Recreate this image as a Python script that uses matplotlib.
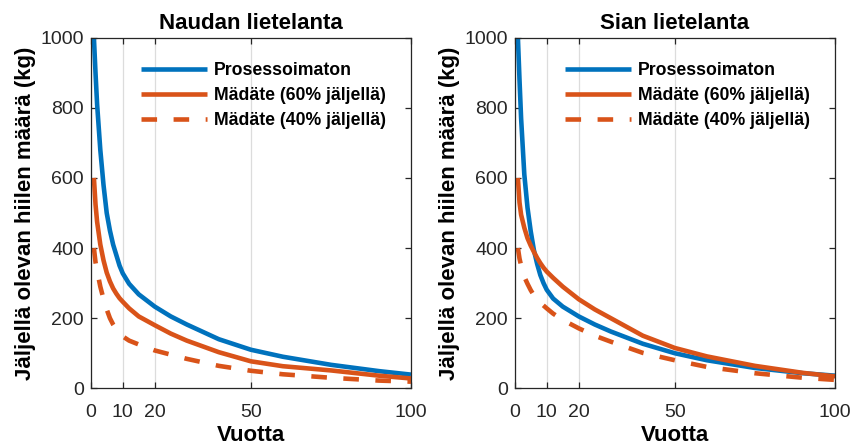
import matplotlib
matplotlib.use("Agg")
import matplotlib.pyplot as plt

plt.rcParams['font.family'] = ['Liberation Sans', 'DejaVu Sans']

# ---- data ----
years = [1, 1.5, 2, 3, 4, 5, 6, 7, 8, 9, 10, 12, 15, 20, 25, 30, 40, 50, 60, 75, 90, 100]

titles = ["Naudan lietelanta", "Sian lietelanta"]
series_labels = ["Prosessoimaton", "Mädäte (60% jäljellä)", "Mädäte (40% jäljellä)"]

naudan_prosessoimaton = [1000, 900, 810, 680, 580, 500, 450, 410, 380, 350, 328, 298, 268, 233, 205, 182, 140, 110, 90, 67, 49, 39]
naudan_madate_60 = [600, 525, 475, 410, 365, 330, 305, 285, 270, 257, 247, 228, 205, 180, 156, 136, 103, 77, 63, 51, 36, 28]
naudan_madate_40 = [400, 360, 335, 290, 255, 225, 200, 182, 168, 157, 148, 136, 125, 108, 96, 84, 64, 50, 40, 30, 22, 19]

sian_prosessoimaton = [1000, 880, 770, 610, 515, 448, 394, 355, 323, 300, 281, 256, 233, 205, 182, 162, 127, 100, 80, 58, 43, 36]
sian_madate_60 = [600, 530, 495, 458, 428, 407, 389, 372, 357, 344, 333, 315, 290, 254, 225, 200, 150, 115, 91, 64, 44, 34]
sian_madate_40 = [400, 370, 350, 318, 298, 280, 265, 254, 244, 236, 228, 213, 195, 171, 150, 133, 101, 80, 61, 43, 30, 24]

x_ticks = [0, 10, 20, 50, 100]
y_ticks = [0, 200, 400, 600, 800, 1000]
x_label = "Vuotta"
y_label = "Jäljellä olevan hiilen määrä (kg)"

panels = [
    (naudan_prosessoimaton, naudan_madate_60, naudan_madate_40),
    (sian_prosessoimaton, sian_madate_60, sian_madate_40),
]

# ---- styling ----
blue = "#0072BD"
red = "#D95319"
axis_col = "#262626"
lw = 3.3

fig = plt.figure(figsize=(8.52, 4.48), dpi=100)
lefts = [90.7 / 852, 514.7 / 852]
w = 320.3 / 852
b = (448 - 388.3) / 448
h = 350.6 / 448

for i, (proc, m60, m40) in enumerate(panels):
    ax = fig.add_axes([lefts[i], b, w, h])
    ax.plot(years, proc, color=blue, lw=lw, label=series_labels[0], solid_capstyle='butt')
    ax.plot(years, m60, color=red, lw=lw, label=series_labels[1], solid_capstyle='butt')
    ax.plot(years, m40, color=red, lw=lw, label=series_labels[2],
            linestyle=(0, (3.4, 3.6)), dash_capstyle='butt')
    ax.set_xlim(0, 100)
    ax.set_ylim(0, 1000)
    ax.set_xticks(x_ticks)
    ax.set_yticks(y_ticks)
    ax.grid(axis='x', color='#dcdcdc', lw=0.9)
    ax.set_axisbelow(True)
    ax.tick_params(direction='in', length=4, width=0.9, colors=axis_col,
                   labelsize=14, top=True, right=True)
    ax.tick_params(axis='x', pad=11.5)
    ax.tick_params(axis='y', pad=5)
    for s in ax.spines.values():
        s.set_color(axis_col)
        s.set_linewidth(0.9)
    ax.set_title(titles[i], fontsize=16, fontweight='bold', pad=6)
    ax.set_xlabel(x_label, fontsize=16, fontweight='bold', labelpad=3)
    ax.set_ylabel(y_label, fontsize=16, fontweight='bold', labelpad=3)
    ax.legend(loc='upper left', bbox_to_anchor=(0.157, 0.93), frameon=False,
              prop={'weight': 'bold', 'size': 12.7},
              handlelength=3.75, handletextpad=0.4, labelspacing=0.45,
              borderaxespad=0, borderpad=0)

fig.savefig("out.png", dpi=100)
